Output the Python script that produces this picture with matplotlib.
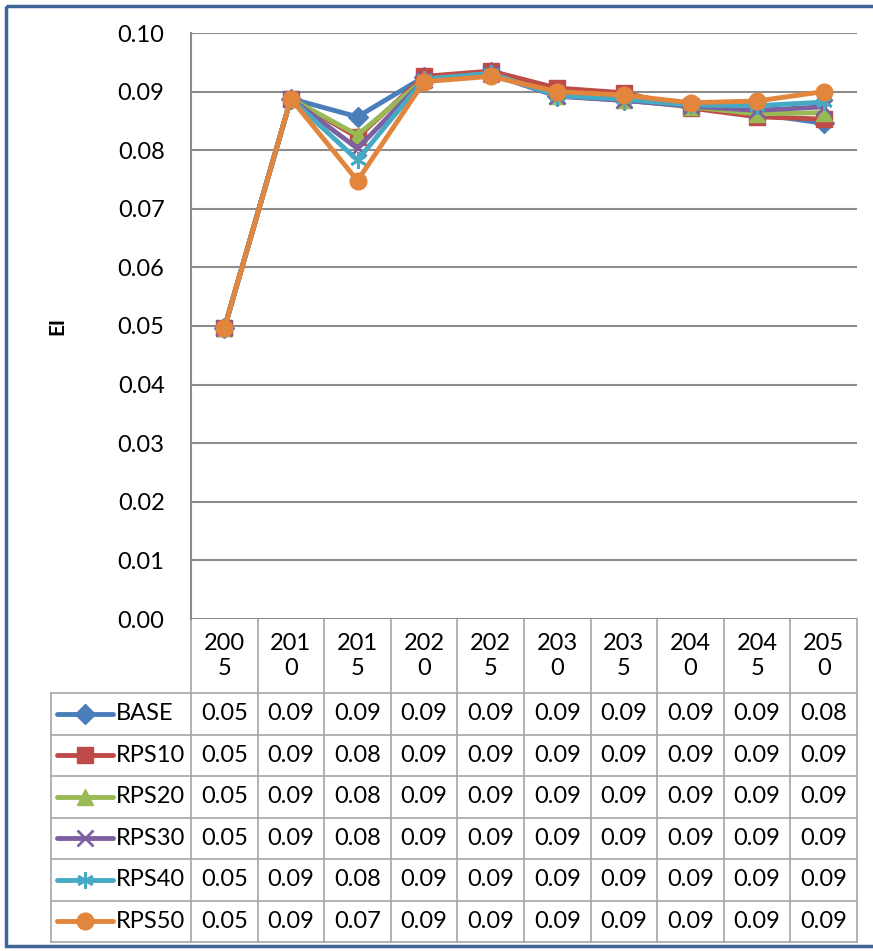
import numpy as np
import matplotlib
matplotlib.use("Agg")
import matplotlib.pyplot as plt
from matplotlib.patches import Rectangle

plt.rcParams['font.family'] = ['Lato', 'DejaVu Sans']

years = [2005, 2010, 2015, 2020, 2025, 2030, 2035, 2040, 2045, 2050]
names = ["BASE", "RPS10", "RPS20", "RPS30", "RPS40", "RPS50"]
base  = [0.0496, 0.0888, 0.0857, 0.0925, 0.0933, 0.0893, 0.0885, 0.0876, 0.0862, 0.0846]
rps10 = [0.0496, 0.0888, 0.0822, 0.0926, 0.0935, 0.0906, 0.0898, 0.0872, 0.0857, 0.0853]
rps20 = [0.0496, 0.0888, 0.0826, 0.0921, 0.0931, 0.0893, 0.0886, 0.0874, 0.0862, 0.0864]
rps30 = [0.0496, 0.0888, 0.0803, 0.0920, 0.0930, 0.0892, 0.0885, 0.0875, 0.0868, 0.0874]
rps40 = [0.0496, 0.0888, 0.0783, 0.0921, 0.0931, 0.0893, 0.0887, 0.0877, 0.0876, 0.0882]
rps50 = [0.0496, 0.0888, 0.0748, 0.0917, 0.0926, 0.0900, 0.0894, 0.0881, 0.0884, 0.0900]
series = [base, rps10, rps20, rps30, rps40, rps50]

colors  = ["#4A7EBB", "#BE4B48", "#98B954", "#7D60A0", "#46AAC5", "#E2853D"]
markers = ["D", "s", "^", "x", (6, 2, 0), "o"]
msizes  = [10, 11, 11, 11, 12, 12]

W, H = 873, 951
# plot area in pixels
L, R, T, B = 191, 857, 33, 619
grid_c = "#8C8C8C"
tab_c = "#A6A6A6"
fs = 17

fig = plt.figure(figsize=(W / 100, H / 100), dpi=100)

# overlay in pixel coordinates for the data table and frame
ov = fig.add_axes([0, 0, 1, 1])
ov.set_xlim(0, W)
ov.set_ylim(H, 0)
ov.axis("off")

ax = fig.add_axes([L / W, 1 - B / H, (R - L) / W, (B - T) / H])
x = np.arange(len(years))
for vals, c, m, ms in zip(series, colors, markers, msizes):
    ax.plot(x, vals, color=c, lw=3.5, marker=m, ms=ms, mfc=c, mec=c,
            mew=2 if m in ("x", (6, 2, 0)) else 1, solid_joinstyle="round")

ax.set_xlim(-0.5, len(years) - 0.5)
ax.set_ylim(0, 0.10)
ax.set_yticks(np.arange(0, 0.101, 0.01))
ax.set_yticklabels([f"{v:.2f}" for v in np.arange(0, 0.101, 0.01)], fontsize=fs)
ax.tick_params(axis="y", length=0, pad=19)
ax.set_xticks([])
ax.grid(axis="y", color=grid_c, lw=1.5)
ax.set_axisbelow(True)
for s in ("top", "right", "bottom"):
    ax.spines[s].set_visible(False)
ax.spines["left"].set_color(grid_c)
ax.spines["left"].set_linewidth(1.5)
ax.set_ylabel("EI", fontsize=15, fontweight="bold", labelpad=36)

# data table under the chart
col_w = (R - L) / len(years)
head_b = 693
row_h = (942 - head_b) / len(names)
lab_l = 51

ov.plot([L, L], [B, 942], color=tab_c, lw=1.2)
for i in range(len(years)):
    xr = L + (i + 1) * col_w
    ov.plot([xr, xr], [B, 942], color=tab_c, lw=1.2)
    ys = str(years[i])
    ov.text(L + (i + 0.5) * col_w, (B + head_b) / 2, ys[:3] + "\n" + ys[3:],
            ha="center", va="center", fontsize=fs, linespacing=1.25)
ov.plot([lab_l, R], [head_b, head_b], color=tab_c, lw=1.2)
ov.plot([lab_l, lab_l], [head_b, 942], color=tab_c, lw=1.2)
for j, (name, vals, c, m, ms) in enumerate(zip(names, series, colors, markers, msizes)):
    yb = head_b + (j + 1) * row_h
    yc = head_b + (j + 0.5) * row_h
    ov.plot([lab_l, R], [yb, yb], color=tab_c, lw=1.2)
    ov.plot([57, 85, 113], [yc, yc, yc], color=c, lw=3.5, marker=m, ms=ms,
            mfc=c, mec=c, markevery=[1], solid_capstyle="round",
            mew=2 if m in ("x", (6, 2, 0)) else 1)
    ov.text(116, yc, name, ha="left", va="center", fontsize=fs)
    for i, v in enumerate(vals):
        ov.text(L + (i + 0.5) * col_w, yc, f"{v:.2f}",
                ha="center", va="center", fontsize=fs)

# chart frame
ov.add_patch(Rectangle((6, 6), W, 940, fill=False, ec="#3F6496", lw=2.5))

fig.savefig("out.png", dpi=100)
